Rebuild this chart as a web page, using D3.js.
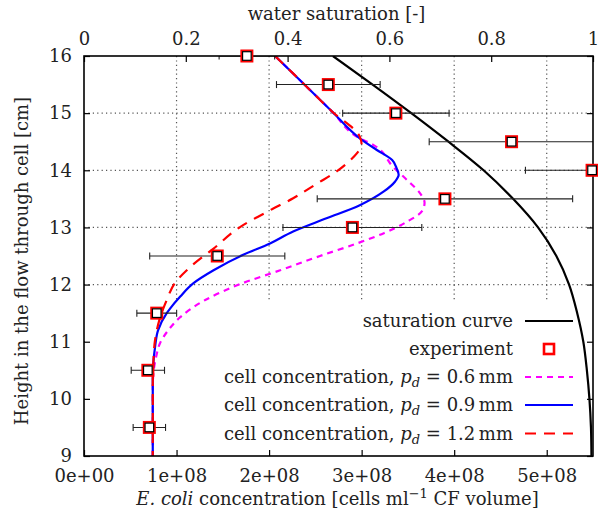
<!DOCTYPE html>
<html>
<head>
<meta charset="utf-8">
<script src="https://cdn.jsdelivr.net/npm/d3@7"></script>
<style>
  html, body { margin: 0; padding: 0; background: #fff; }
  svg { display: block; }
  svg text { font-family: "DejaVu Serif", serif; fill: #222; }
</style>
</head>
<body>
<svg id="chart" width="598" height="515"></svg>
<script>
// ---- data ---------------------------------------------------------------
// Experimental E. coli concentration (cells/ml CF volume) at each height (cm)
const expHeight = [16, 15.5, 15, 14.5, 14, 13.5, 13, 12.5, 11.5, 10.5, 9.5];
const expMean   = [1.76e8, 2.64e8, 3.37e8, 4.62e8, 5.49e8, 3.90e8, 2.90e8, 1.44e8, 0.786e8, 0.69e8, 0.706e8];
const expSd     = [0.30e8, 0.56e8, 0.575e8, 0.89e8, 0.72e8, 1.38e8, 0.75e8, 0.73e8, 0.215e8, 0.18e8, 0.175e8];

// Water saturation profile (top axis)
const satHeight = [16, 15.5, 15, 14.5, 14, 13.5, 13, 12.5, 12, 11.5, 11, 10.5, 10, 9.5, 9];
const satValue  = [0.489, 0.567, 0.643, 0.716, 0.785, 0.843, 0.892, 0.928, 0.953, 0.969, 0.981, 0.988, 0.993, 0.996, 0.997];

// Simulated cell concentration, p_d = 0.6 mm
const c06Height = [16, 15.52, 15.03, 14.56, 14.44, 14.06, 13.83, 13.6, 13.43, 13.28, 13.1, 12.9, 12.72, 12.5, 12.25, 12.01, 11.73, 11.43, 11.2, 10.97, 10.74, 10.45, 10.2, 9];
const c06Value  = [2.065e8, 2.37e8, 2.68e8, 2.98e8, 3.13e8, 3.34e8, 3.49e8, 3.63e8, 3.68e8, 3.65e8, 3.49e8, 3.24e8, 2.95e8, 2.55e8, 2.12e8, 1.69e8, 1.31e8, 1.04e8, 0.91e8, 0.82e8, 0.78e8, 0.75e8, 0.743e8, 0.743e8];

// Simulated cell concentration, p_d = 0.9 mm
const c09Height = [16, 15.52, 15.03, 14.56, 14.36, 14.18, 14.03, 13.92, 13.8, 13.63, 13.39, 13.16, 12.93, 12.72, 12.52, 12.25, 12.02, 11.79, 11.58, 11.5, 11.2, 10.91, 10.62, 10.33, 9];
const c09Value  = [2.065e8, 2.37e8, 2.68e8, 2.98e8, 3.16e8, 3.33e8, 3.38e8, 3.40e8, 3.36e8, 3.24e8, 2.98e8, 2.62e8, 2.26e8, 2.01e8, 1.72e8, 1.40e8, 1.18e8, 1.04e8, 0.93e8, 0.894e8, 0.80e8, 0.768e8, 0.749e8, 0.743e8, 0.743e8];

// Simulated cell concentration, p_d = 1.2 mm
const c12Height = [16, 15.52, 15.03, 14.59, 14.45, 14.3, 14.18, 13.98, 13.77, 13.51, 13.3, 13.01, 12.63, 12.31, 12.02, 11.73, 11.41, 11.03, 10.62, 10.3, 9];
const c12Value  = [2.065e8, 2.37e8, 2.68e8, 2.98e8, 3.0e8, 2.95e8, 2.88e8, 2.73e8, 2.52e8, 2.26e8, 2.01e8, 1.69e8, 1.40e8, 1.15e8, 0.98e8, 0.894e8, 0.82e8, 0.768e8, 0.749e8, 0.743e8, 0.743e8];

// Axis ticks
const xTicks  = [0, 1e8, 2e8, 3e8, 4e8, 5e8];
const xTickLabels = ["0e+00", "1e+08", "2e+08", "3e+08", "4e+08", "5e+08"];
const x2Ticks = [0, 0.2, 0.4, 0.6, 0.8, 1];
const x2TickLabels = ["0", "0.2", "0.4", "0.6", "0.8", "1"];
const yTicks  = [9, 10, 11, 12, 13, 14, 15, 16];

// ---- layout -------------------------------------------------------------
const svg = d3.select("#chart");
const L = 84, R = 593, T = 56, B = 456;
const FONT = '"DejaVu Serif", serif';

const x  = d3.scaleLinear().domain([0, 5.5e8]).range([L, R]);
const x2 = d3.scaleLinear().domain([0, 1]).range([L, R]);
const y  = d3.scaleLinear().domain([9, 16]).range([B, T]);

svg.append("defs").append("clipPath").attr("id", "plotclip")
  .append("rect").attr("x", L).attr("y", T).attr("width", R - L).attr("height", B - T);

// Grid (dotted)
const grid = svg.append("g").attr("stroke", "#555").attr("stroke-width", 1.2)
  .attr("stroke-dasharray", "1.2,3.2");
xTicks.slice(1).forEach(v => {
  grid.append("line").attr("x1", x(v)).attr("x2", x(v)).attr("y1", T).attr("y2", B);
});
yTicks.slice(1, -1).forEach(v => {
  grid.append("line").attr("x1", L).attr("x2", R).attr("y1", y(v)).attr("y2", y(v));
});

// Opaque key background
const keyTop = 301;
svg.append("rect").attr("x", L + 1).attr("y", keyTop).attr("width", R - L - 2)
  .attr("height", B - keyTop - 1).attr("fill", "#fff");

// Ticks (inward) via d3 axes
const tickLen = 6;
function styleAxis(g) {
  g.attr("font-family", null).attr("font-size", null);
  g.select(".domain").remove();
  g.selectAll(".tick line").attr("stroke", "#000").attr("stroke-width", 1.2);
  g.selectAll(".tick text").style("font-family", FONT).style("font-size", "18px").attr("fill", "#222");
}
svg.append("g").attr("transform", `translate(0,${B})`)
  .call(d3.axisBottom(x).tickValues(xTicks).tickSize(-tickLen).tickPadding(13)
    .tickFormat((d, i) => xTickLabels[i]))
  .call(styleAxis);
svg.append("g").attr("transform", `translate(0,${T})`)
  .call(d3.axisTop(x2).tickValues(x2Ticks).tickSize(-tickLen).tickPadding(11)
    .tickFormat((d, i) => x2TickLabels[i]))
  .call(styleAxis);
svg.append("g").attr("transform", `translate(${L},0)`)
  .call(d3.axisLeft(y).tickValues(yTicks).tickSize(-tickLen).tickPadding(12).tickFormat(d3.format("d")))
  .call(styleAxis);
svg.append("g").attr("transform", `translate(${R},0)`)
  .call(d3.axisRight(y).tickValues(yTicks).tickSize(-tickLen).tickFormat(""))
  .call(styleAxis);

// Curves
const plot = svg.append("g").attr("clip-path", "url(#plotclip)");
const curveLine = (xs, hs, sx) => d3.line()
  .x((d, i) => sx(xs[i])).y((d, i) => y(hs[i]))
  .curve(d3.curveMonotoneY)(hs);

plot.append("path").attr("d", curveLine(satValue, satHeight, x2))
  .attr("fill", "none").attr("stroke", "#000").attr("stroke-width", 2.2);
plot.append("path").attr("d", curveLine(c06Value, c06Height, x))
  .attr("fill", "none").attr("stroke", "#ff00ff").attr("stroke-width", 2.2)
  .attr("stroke-dasharray", "6,5");
plot.append("path").attr("d", curveLine(c09Value, c09Height, x))
  .attr("fill", "none").attr("stroke", "#0000ff").attr("stroke-width", 2.2);
plot.append("path").attr("d", curveLine(c12Value, c12Height, x))
  .attr("fill", "none").attr("stroke", "#ff0000").attr("stroke-width", 2.2)
  .attr("stroke-dasharray", "11,8");

// Error bars
const eb = plot.append("g").attr("stroke", "#222").attr("stroke-width", 1.1);
expHeight.forEach((h, i) => {
  const lo = x(expMean[i] - expSd[i]), hi = x(expMean[i] + expSd[i]), yy = y(h);
  eb.append("line").attr("x1", lo).attr("x2", hi).attr("y1", yy).attr("y2", yy);
  eb.append("line").attr("x1", lo).attr("x2", lo).attr("y1", yy - 3.5).attr("y2", yy + 3.5);
  eb.append("line").attr("x1", hi).attr("x2", hi).attr("y1", yy - 3.5).attr("y2", yy + 3.5);
});

// Border
svg.append("rect").attr("x", L).attr("y", T).attr("width", R - L).attr("height", B - T)
  .attr("fill", "none").attr("stroke", "#000").attr("stroke-width", 1.6);

// Experiment markers (drawn over the frame)
const pts = svg.append("g");
expHeight.forEach((h, i) => {
  const cx = x(expMean[i]), cy = y(h);
  pts.append("rect").attr("x", cx - 5.5).attr("y", cy - 5.5).attr("width", 11).attr("height", 11)
    .attr("fill", "#fff").attr("stroke", "#ff0000").attr("stroke-width", 2);
  pts.append("rect").attr("x", cx - 4.3).attr("y", cy - 4.3).attr("width", 8.6).attr("height", 8.6)
    .attr("fill", "#fff").attr("stroke", "#000").attr("stroke-width", 1.2);
});

// Axis titles
svg.append("text").attr("x", (L + R) / 2 - 2).attr("y", 20).attr("text-anchor", "middle")
  .style("font-size", "18px").text("water saturation [-]");

svg.append("text").attr("transform", `translate(28,${(T + B) / 2 + 5}) rotate(-90)`)
  .attr("text-anchor", "middle").style("font-size", "18px")
  .text("Height in the flow through cell [cm]");

const xt = svg.append("text").attr("x", (L + R) / 2 - 1).attr("y", 505).attr("text-anchor", "middle")
  .style("font-size", "18px");
xt.append("tspan").style("font-style", "italic").text("E. coli");
xt.append("tspan").text(" concentration [cells ml");
xt.append("tspan").attr("dy", -7).style("font-size", "13px").text("\u22121");
xt.append("tspan").attr("dy", 7).text(" CF volume]");

// Key
const keyTextX = 513, keyLineX1 = 525, keyLineX2 = 573;
const keyRows = [321, 349, 377, 405, 433.5];
const keyLabels = ["saturation curve", "experiment", "0.6", "0.9", "1.2"];
const key = svg.append("g");
keyRows.forEach((ky, i) => {
  const t = key.append("text").attr("x", keyTextX).attr("y", ky + 6).attr("text-anchor", "end")
    .style("font-size", "18px");
  if (i < 2) {
    t.text(keyLabels[i]);
  } else {
    t.append("tspan").text("cell concentration, ");
    t.append("tspan").style("font-style", "italic").text("p");
    t.append("tspan").attr("dy", 4).style("font-style", "italic").style("font-size", "13px").text("d");
    t.append("tspan").attr("dy", -4).text(" = " + keyLabels[i] + "\u2009mm");
  }
});
key.append("line").attr("x1", keyLineX1).attr("x2", keyLineX2).attr("y1", keyRows[0]).attr("y2", keyRows[0])
  .attr("stroke", "#000").attr("stroke-width", 2.2);
key.append("rect").attr("x", 549 - 5).attr("y", keyRows[1] - 5).attr("width", 10).attr("height", 10)
  .attr("fill", "#fff").attr("stroke", "#ff0000").attr("stroke-width", 2.6);
key.append("line").attr("x1", keyLineX1).attr("x2", keyLineX2).attr("y1", keyRows[2]).attr("y2", keyRows[2])
  .attr("stroke", "#ff00ff").attr("stroke-width", 2.2).attr("stroke-dasharray", "6,5");
key.append("line").attr("x1", keyLineX1).attr("x2", keyLineX2).attr("y1", keyRows[3]).attr("y2", keyRows[3])
  .attr("stroke", "#0000ff").attr("stroke-width", 2.2);
key.append("line").attr("x1", keyLineX1).attr("x2", keyLineX2).attr("y1", keyRows[4]).attr("y2", keyRows[4])
  .attr("stroke", "#ff0000").attr("stroke-width", 2.2).attr("stroke-dasharray", "11,8");
</script>
</body>
</html>
